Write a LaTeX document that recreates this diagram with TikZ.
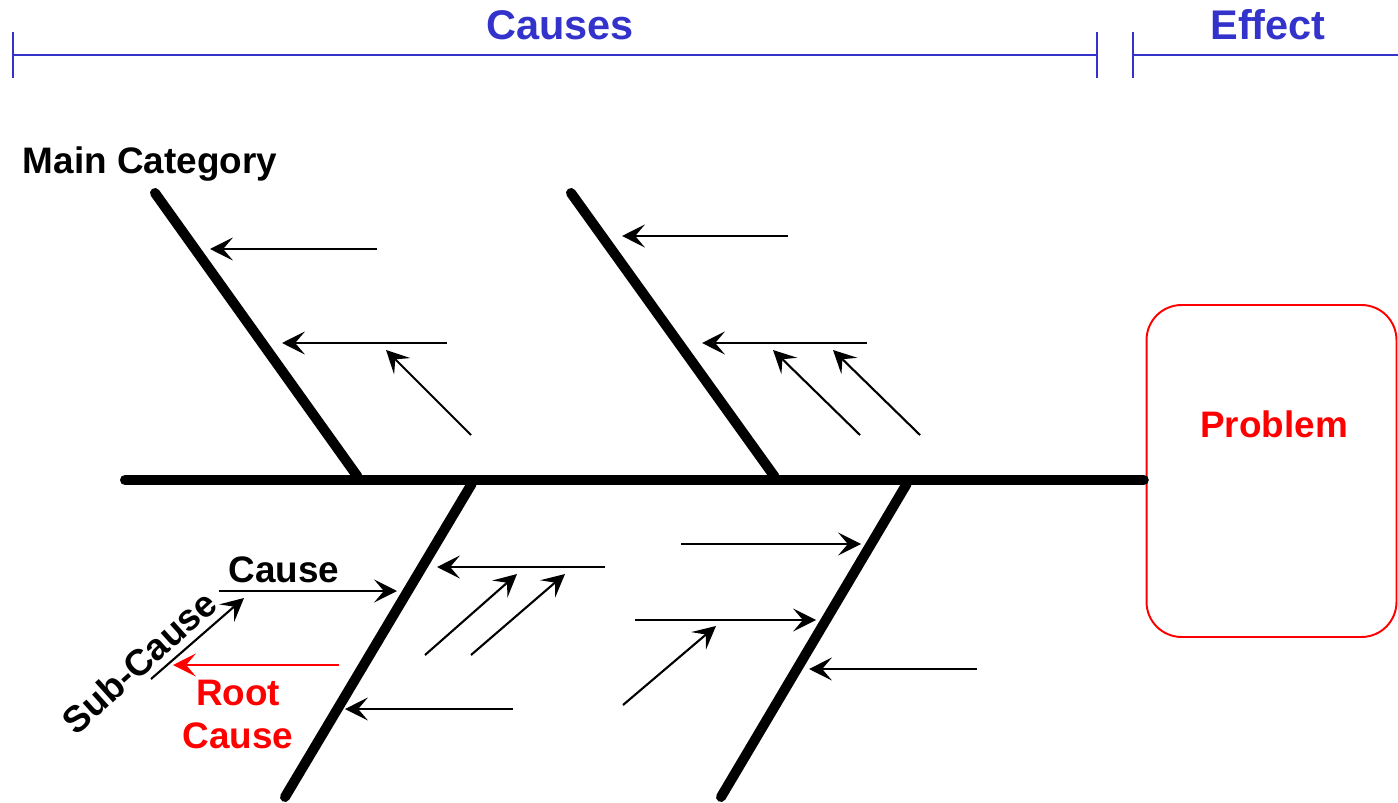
\documentclass[tikz,border=0pt]{standalone}
\usepackage{fontspec}
\setmainfont{Liberation Sans}
\usepackage{xcolor}
\usetikzlibrary{arrows.meta, positioning}
\definecolor{hdrblue}{RGB}{51,51,204}
\tikzset{
  bone/.style={line width=5.7pt, line cap=round},
  twig/.style={line width=1.2pt, -{Stealth[length=13pt, width=13pt, inset=5.5pt]}},
  ruler/.style={draw=hdrblue, line width=1.2pt},
  header/.style={font=\fontsize{23.6}{28}\selectfont\bfseries, text=hdrblue, anchor=base, inner sep=0pt},
  tag/.style={font=\fontsize{21}{24.4}\selectfont\bfseries, inner sep=0pt},
  probbox/.style={draw=red, line width=1.1pt, rounded corners=0.7cm, minimum width=5cm, minimum height=6.64cm}
}

\begin{document}
\begin{tikzpicture}[x=0.02cm, y=-0.02cm]
    \useasboundingbox (0,0) rectangle (1398,803);

    % Header
    \coordinate (cL) at (13,55);
    \coordinate (cR) at (1097,55);
    \coordinate (eL) at (1133,55);
    \coordinate (eR) at (1398,55);
    \draw[ruler] (cL) -- (cR);
    \draw[ruler] (eL) -- (eR);
    \foreach \c in {cL,cR,eL}
        \draw[ruler] ([yshift=0.46cm]\c) -- ([yshift=-0.46cm]\c);
    \node[header] (causes) at (560,40) {Causes};
    \node[header] (effect) at (1268,40) {Effect};

    % Head and spine
    \node[probbox] (problem) at (1271.5,471) {};
    \node[tag, text=red, anchor=base] (problemtxt) at (1274,437) {Problem};
    \coordinate (tail) at (125,480);
    \draw[bone, shorten >=1pt] (tail) -- (tail -| problem.west);

    % Bones
    \coordinate (b1top) at (155,193);  \coordinate (b1foot) at (360,480);
    \coordinate (b2top) at (571,193);  \coordinate (b2foot) at (777,480);
    \coordinate (b3foot) at (474,480); \coordinate (b3end) at (285,797);
    \coordinate (b4foot) at (909,480); \coordinate (b4end) at (721,797);
    \foreach \a/\b in {b1top/b1foot, b2top/b2foot}
        \draw[bone, shorten >=2.5pt] (\a) -- (\b);
    \foreach \a/\b in {b3foot/b3end, b4foot/b4end}
        \draw[bone, shorten <=2.5pt] (\a) -- (\b);

    % Causes and sub-causes
    \foreach \n/\sx/\sy/\tx/\ty in {
        u1a/377/249/210/249, u1b/447/343/282/343, u1c/471/435/386/350,
        u2a/788/236/622/236, u2b/867/343/702/343, u2c/860/435/773/350, u2d/920/435/833/350,
        l1a/605/567/437/567, l1b/425/655/517/574, l1c/471/655/565/574, l1d/513/709/345/709,
        l2a/681/544/861/544, l2b/635/620/816/620, l2c/623/705/716/626, l2d/977/669/809/669}{
        \coordinate (\n-s) at (\sx,\sy);
        \coordinate (\n-t) at (\tx,\ty);
        \draw[twig] (\n-s) -- (\n-t);
    }

    % Legend labels
    \coordinate (cause-s) at (219,591);   \coordinate (cause-t) at (397,591);
    \coordinate (sub-s) at (151,679);     \coordinate (sub-t) at (244,598);
    \coordinate (root-s) at (339,665);    \coordinate (root-t) at (173,665);
    \draw[twig] (cause-s) -- (cause-t);
    \draw[twig] (sub-s) -- (sub-t);
    \draw[twig, red] (root-s) -- (root-t);
    \node[tag, anchor=base] (maincat) at (150,174) {Main Category};
    \node[tag, anchor=base] (cause) at (284,582) {Cause};
    \node[tag, rotate=42] (subcause) at (139,662) {Sub-Cause};
    \node[tag, text=red, align=center, anchor=north] (rootcause) at (238,680) {Root\\Cause};
\end{tikzpicture}
\end{document}
